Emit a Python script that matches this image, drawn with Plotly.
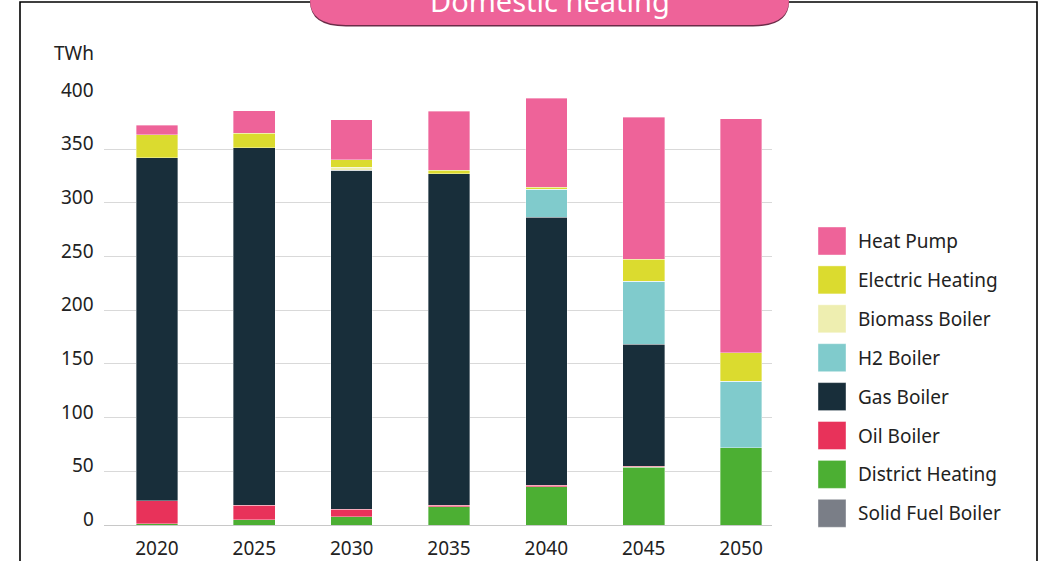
import plotly.graph_objects as go

years = ["2020", "2025", "2030", "2035", "2040", "2045", "2050"]
solid_fuel = [0, 0, 0, 0, 0, 0, 0]
district = [1.0, 5.0, 7.8, 17.0, 35.4, 53.7, 72.0]
oil = [21.6, 13.6, 6.8, 1.5, 1.5, 1.2, 0.0]
gas = [319.4, 332.7, 315.6, 308.6, 249.9, 113.5, 0.0]
h2 = [0.0, 0.0, 0.0, 0.0, 26.0, 58.6, 62.0]
biomass = [0.0, 0.0, 3.0, 0.0, 0.0, 0.0, 0.0]
electric = [21.7, 13.4, 7.0, 3.5, 1.8, 20.4, 26.6]
heat_pump = [8.4, 21.0, 37.2, 54.8, 83.0, 132.5, 218.0]
y_ticks = [0, 50, 100, 150, 200, 250, 300, 350, 400]

series_names = ["Solid Fuel Boiler", "District Heating", "Oil Boiler", "Gas Boiler",
                "H2 Boiler", "Biomass Boiler", "Electric Heating", "Heat Pump"]
series_values = [solid_fuel, district, oil, gas, h2, biomass, electric, heat_pump]
series_colors = ["#7a7e87", "#4caf33", "#e8325a", "#182e3a",
                 "#80cbcc", "#eeeeb0", "#dbdb2f", "#ee6399"]

FONT = "Noto Sans"
TXT = "#222222"
W, H = 1046, 561
# target plot area in screen pixels
SX0, SX1, SY0, SY1 = 104, 772, 525, 95


def px(x):
    return (x - SX0) / (SX1 - SX0)


def py(y):
    return (SY0 - y) / (SY0 - SY1)


fig = go.Figure()
for name, vals, col in zip(series_names, series_values, series_colors):
    fig.add_trace(go.Bar(
        x=years, y=vals, name=name, width=0.428,
        marker=dict(color=col, line=dict(color="rgba(255,255,255,0.45)", width=0.8)),
        showlegend=False,
    ))

shapes = []
annotations = []

# outer frame
shapes.append(dict(type="rect", xref="paper", yref="paper",
                   x0=px(20), x1=px(1037), y0=py(2), y1=py(600),
                   line=dict(color="#000000", width=1.6), fillcolor="rgba(0,0,0,0)", layer="above"))


def title_path(dy):
    l, r, t, b, rx, ry = 310, 789, -12, 25 + dy, 36, 25
    return (f"M {px(l)},{py(t)} L {px(l)},{py(b - ry)} "
            f"Q {px(l)},{py(b)} {px(l + rx)},{py(b)} "
            f"L {px(r - rx)},{py(b)} "
            f"Q {px(r)},{py(b)} {px(r)},{py(b - ry)} "
            f"L {px(r)},{py(t)} Z")


shapes.append(dict(type="path", xref="paper", yref="paper", path=title_path(1.5),
                   fillcolor="#6b2c48", line=dict(width=0), layer="above"))
shapes.append(dict(type="path", xref="paper", yref="paper", path=title_path(0),
                   fillcolor="#ee6399", line=dict(width=0), layer="above"))
annotations.append(dict(text="Domestic heating", xref="paper", yref="paper",
                        x=px(550), y=py(0), xanchor="center", yanchor="middle",
                        showarrow=False, font=dict(family=FONT, size=29, color="#ffffff")))

# unit label
annotations.append(dict(text="TWh", xref="paper", yref="paper", x=px(96), y=py(53),
                        xanchor="right", yanchor="middle", showarrow=False,
                        font=dict(family=FONT, size=19, color=TXT)))

# y tick labels, sitting slightly above their gridlines as in the reference
for t in y_ticks:
    annotations.append(dict(text=str(t), xref="paper", yref="y", x=px(96), y=t,
                            xanchor="right", yanchor="middle", yshift=6, showarrow=False,
                            font=dict(family=FONT, size=19, color=TXT)))

# legend (top to bottom)
leg_y0, leg_dy = 241, 38.9
for i, idx in enumerate(range(len(series_names) - 1, -1, -1)):
    cy = leg_y0 + i * leg_dy
    shapes.append(dict(type="rect", xref="paper", yref="paper",
                       x0=px(818), x1=px(846), y0=py(cy - 14), y1=py(cy + 14),
                       fillcolor=series_colors[idx], line=dict(color="rgba(255,255,255,0.5)", width=0.8)))
    annotations.append(dict(text=series_names[idx], xref="paper", yref="paper",
                            x=px(856), y=py(cy), xanchor="left", yanchor="middle",
                            showarrow=False, font=dict(family=FONT, size=19, color=TXT)))

fig.update_layout(
    width=W, height=H, barmode="stack", autosize=False,
    margin=dict(l=SX0, r=W - SX1, t=SY1, b=H - SY0, pad=0),
    paper_bgcolor="#ffffff", plot_bgcolor="#ffffff",
    font=dict(family=FONT, size=17, color=TXT),
    shapes=shapes, annotations=annotations,
    xaxis=dict(type="category", range=[-0.544, 6.318], showgrid=False, showline=False,
               automargin=False, ticks="", ticklabelstandoff=10,
               tickfont=dict(size=19, color=TXT)),
    yaxis=dict(range=[0, 400.5], tickvals=y_ticks, showticklabels=False,
               automargin=False, showgrid=True, gridcolor="#d9d9d9", gridwidth=1.3,
               zeroline=True, zerolinecolor="#c8c8c8", zerolinewidth=1.3, showline=False,
               ticks=""),
)

fig.write_html("out.html", config={"displayModeBar": False},
               post_script="document.body.style.margin='0px';document.body.style.overflow='hidden';")
